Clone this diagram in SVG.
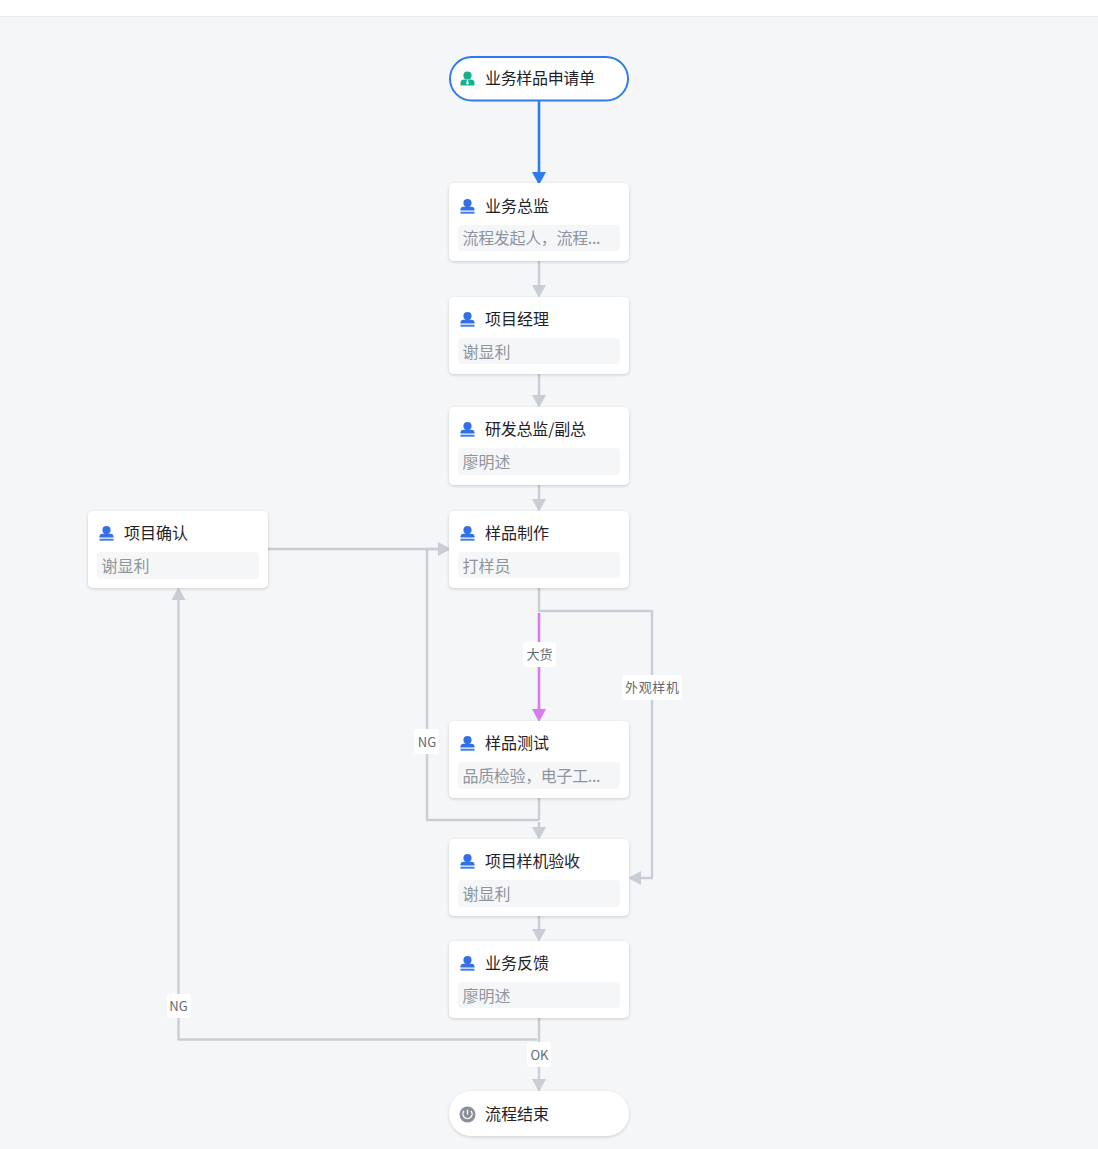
<svg xmlns="http://www.w3.org/2000/svg" width="1098" height="1149" viewBox="0 0 1098 1149">
<style>
.card{fill:#fff;filter:url(#sh)}
.sub{fill:#f5f6f8}
.t{font:16px "Noto Sans CJK SC","Liberation Sans",sans-serif;fill:#1f2329}
.s{font:16px "Noto Sans CJK SC","Liberation Sans",sans-serif;fill:#8f959e}
.l{font:13px "Noto Sans CJK SC","Liberation Sans",sans-serif;fill:#646a73;text-anchor:middle}
.lb{fill:#fff}
.e{fill:none;stroke:#c9ced6;stroke-width:2.400;stroke-linejoin:round}
.ah{fill:#c9ced6}
</style>
<defs>
<filter id="sh" x="-10%" y="-20%" width="120%" height="140%"><feDropShadow dx="0" dy="1" stdDeviation="1.800" flood-color="#1f2329" flood-opacity="0.2"/></filter>
<g id="u"><circle cx="7.500" cy="4" r="4.100" fill="#3370e8"/><path d="M5.500 6.500h4v2h-4z" fill="#3370e8"/><path d="M0.500 11.500v-1.200q0-2.300 2.600-2.500h8.800q2.600.2 2.600 2.500v1.200z" fill="#3370e8"/><rect x="0.500" y="12.700" width="14" height="2" fill="#3f7cf0"/></g>
<path id="ad" d="M-7 -13H7L0 0z"/>
</defs>
<rect width="1098" height="1149" fill="#f5f6f8"/>
<rect width="1098" height="16" fill="#fff"/>
<rect y="16" width="1098" height="1" fill="#e8eaed"/>
<g id="connectors">
<path d="M539 101V172" fill="none" stroke="#2f7bf0" stroke-width="2.600"/>
<use href="#ad" x="539" y="185" fill="#2f7bf0"/>
<path class="e" d="M539 261V285"/><use href="#ad" class="ah" x="539" y="298"/>
<path class="e" d="M539 374V395"/><use href="#ad" class="ah" x="539" y="408"/>
<path class="e" d="M539 485V499"/><use href="#ad" class="ah" x="539" y="512"/>
<path class="e" d="M268 549H438"/><path class="ah" d="M451 549L438 542V556z"/>
<path class="e" d="M539 820H427V549H438"/>
<path class="e" d="M539 798V820"/>
<path class="e" d="M539 822V827"/><use href="#ad" class="ah" x="539" y="840"/>
<path class="e" d="M539 588V611H652V878H641"/><path class="ah" d="M628 878L641 871V885z"/>
<path d="M539 613V709" fill="none" stroke="#d97af0" stroke-width="2.600"/>
<use href="#ad" x="539" y="722" fill="#d97af0"/>
<path class="e" d="M539 916V929"/><use href="#ad" class="ah" x="539" y="942"/>
<path class="e" d="M539 1018V1079"/><use href="#ad" class="ah" x="539" y="1092"/>
<path class="e" d="M537 1039.500H178.500V600"/><path class="ah" d="M178.500 587L185.500 600H171.500z"/>
<g id="edge-labels">
<rect class="lb" x="523" y="642" width="33" height="25" rx="3"/><text class="l" x="539.500" y="659">大货</text>
<rect class="lb" x="622" y="675" width="60" height="25" rx="3"/><text class="l" x="652" y="692" textLength="54">外观样机</text>
<rect class="lb" x="414" y="729" width="25" height="25" rx="3"/><text class="l" x="427" y="747">NG</text>
<rect class="lb" x="167" y="994" width="24" height="24" rx="3"/><text class="l" x="178.500" y="1011">NG</text>
<rect class="lb" x="527" y="1042" width="24" height="25" rx="3"/><text class="l" x="539.500" y="1060">OK</text>
</g>
</g>
<g id="n-start"><rect x="450" y="57" width="178" height="43.500" rx="21.700" fill="#fff" stroke="#2f7bf0" stroke-width="2"/>
<circle cx="467.500" cy="75.500" r="4.100" fill="#14b08f"/><path d="M460.500 85.500v-2.500q0-3.500 3.500-3.500h7q3.500 0 3.500 3.500v2.500z" fill="#14b08f"/><path d="M467 79.500h1l.7 4-1.200 1.500-1.200-1.500z" fill="#fff"/>
<text class="t" x="485" y="84" textLength="110">业务样品申请单</text></g>
<g id="n1"><rect class="card" x="449" y="183" width="180" height="78" rx="5"/><use href="#u" x="460" y="199"/><text class="t" x="485" y="212">业务总监</text><rect class="sub" x="458" y="225" width="162" height="26" rx="4"/><text class="s" x="462.500" y="244" textLength="138">流程发起人，流程...</text></g>
<g id="n2"><rect class="card" x="449" y="297" width="180" height="77" rx="5"/><use href="#u" x="460" y="312"/><text class="t" x="485" y="325">项目经理</text><rect class="sub" x="458" y="338" width="162" height="26" rx="4"/><text class="s" x="462.500" y="357.500">谢显利</text></g>
<g id="n3"><rect class="card" x="449" y="407" width="180" height="78" rx="5"/><use href="#u" x="460" y="422"/><text class="t" x="485" y="435" textLength="101">研发总监/副总</text><rect class="sub" x="458" y="448" width="162" height="27" rx="4"/><text class="s" x="462.500" y="467.500">廖明述</text></g>
<g id="n4"><rect class="card" x="449" y="511" width="180" height="77" rx="5"/><use href="#u" x="460" y="526"/><text class="t" x="485" y="539">样品制作</text><rect class="sub" x="458" y="552" width="162" height="26" rx="4"/><text class="s" x="462.500" y="571.500">打样员</text></g>
<g id="n5"><rect class="card" x="88" y="511" width="180" height="77" rx="5"/><use href="#u" x="99" y="526"/><text class="t" x="124" y="539">项目确认</text><rect class="sub" x="97" y="552" width="162" height="27" rx="4"/><text class="s" x="101.500" y="571.500">谢显利</text></g>
<g id="n6"><rect class="card" x="449" y="721" width="180" height="77" rx="5"/><use href="#u" x="460" y="736"/><text class="t" x="485" y="749">样品测试</text><rect class="sub" x="458" y="762" width="162" height="27" rx="4"/><text class="s" x="462.500" y="781.500" textLength="138">品质检验，电子工...</text></g>
<g id="n7"><rect class="card" x="449" y="839" width="180" height="77" rx="5"/><use href="#u" x="460" y="854"/><text class="t" x="485" y="867" textLength="95">项目样机验收</text><rect class="sub" x="458" y="880" width="162" height="27" rx="4"/><text class="s" x="462.500" y="899.500">谢显利</text></g>
<g id="n8"><rect class="card" x="449" y="941" width="180" height="77" rx="5"/><use href="#u" x="460" y="956"/><text class="t" x="485" y="969">业务反馈</text><rect class="sub" x="458" y="982" width="162" height="26" rx="4"/><text class="s" x="462.500" y="1001.500">廖明述</text></g>
<g id="n-end"><rect class="card" x="449" y="1091" width="180" height="45" rx="22.500"/><circle cx="467.500" cy="1114.500" r="8" fill="#8a8f99"/><path d="M467.500 1109.500v5M464 1111a4.600 4.600 0 1 0 7 0" fill="none" stroke="#fff" stroke-width="1.300"/><text class="t" x="485" y="1120">流程结束</text></g>
</svg>
